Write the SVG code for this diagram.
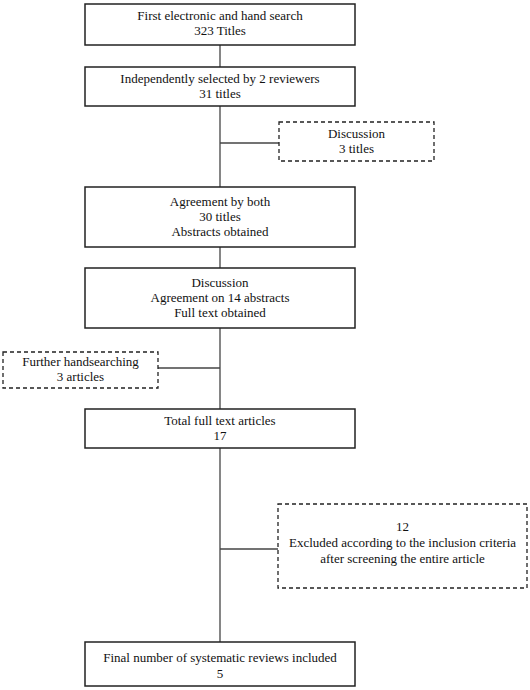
<svg xmlns="http://www.w3.org/2000/svg" width="530" height="690" viewBox="0 0 530 690">
<style>
.box{fill:#fff;stroke:#222;stroke-width:1.5}
.dash{fill:#fff;stroke:#222;stroke-width:1.3;stroke-dasharray:4,3}
.ln{stroke:#444;stroke-width:1.3;fill:none}
text{font-family:"Liberation Serif","Times New Roman",serif;font-size:13px;fill:#111;text-anchor:middle}
</style>
<rect width="530" height="690" fill="#fff"/>
<g id="connectors">
<line class="ln" x1="220" y1="45" x2="220" y2="67"/>
<line class="ln" x1="220" y1="106" x2="220" y2="187"/>
<line class="ln" x1="220" y1="143" x2="279" y2="143"/>
<line class="ln" x1="220" y1="247" x2="220" y2="268"/>
<line class="ln" x1="220" y1="328" x2="220" y2="409"/>
<line class="ln" x1="158" y1="368" x2="220" y2="368"/>
<line class="ln" x1="220" y1="448" x2="220" y2="642"/>
<line class="ln" x1="220" y1="549" x2="278" y2="549"/>
</g>
<g id="n1"><rect class="box" x="85" y="4" width="270" height="41"/>
<text x="220" y="20">First electronic and hand search</text><text x="220" y="35">323 Titles</text></g>
<g id="n2"><rect class="box" x="85" y="67" width="270" height="39"/>
<text x="220" y="83">Independently selected by 2 reviewers</text><text x="220" y="98">31 titles</text></g>
<g id="n3"><rect class="dash" x="279" y="122" width="155" height="39"/>
<text x="356.5" y="138">Discussion</text><text x="356.5" y="153">3 titles</text></g>
<g id="n4"><rect class="box" x="85" y="187" width="270" height="60"/>
<text x="220" y="206">Agreement by both</text><text x="220" y="221">30 titles</text><text x="220" y="236">Abstracts obtained</text></g>
<g id="n5"><rect class="box" x="85" y="268" width="270" height="60"/>
<text x="220" y="287">Discussion</text><text x="220" y="302">Agreement on 14 abstracts</text><text x="220" y="317">Full text obtained</text></g>
<g id="n6"><rect class="dash" x="3" y="352" width="155" height="36"/>
<text x="80.5" y="366">Further handsearching</text><text x="80.5" y="381">3 articles</text></g>
<g id="n7"><rect class="box" x="85" y="409" width="270" height="39"/>
<text x="220" y="425">Total full text articles</text><text x="220" y="440">17</text></g>
<g id="n8"><rect class="dash" x="278" y="504" width="249" height="84"/>
<text x="402.5" y="531">12</text><text x="402.5" y="547">Excluded according to the inclusion criteria</text><text x="402.5" y="563">after screening the entire article</text></g>
<g id="n9"><rect class="box" x="85" y="642" width="270" height="44"/>
<text x="220" y="662">Final number of systematic reviews included</text><text x="220" y="678">5</text></g>
</svg>
